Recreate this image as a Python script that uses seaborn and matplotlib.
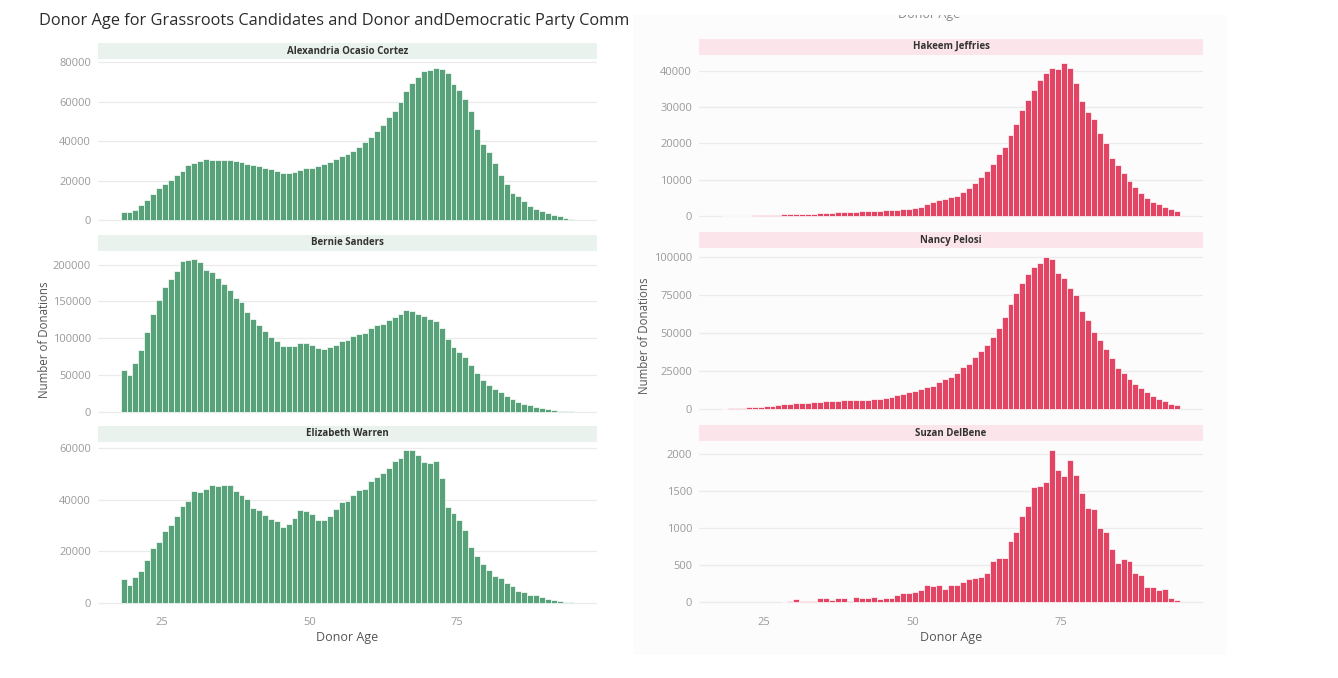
import numpy as np
import pandas as pd
import seaborn as sns
import matplotlib.pyplot as plt
from matplotlib.patches import Rectangle

sns.set_theme(style="white")
plt.rcParams['font.family'] = ['Open Sans', 'DejaVu Sans']

W, H = 1338, 678

# donor age bins are one year wide, 18..95 (bin centres)
ages = np.arange(18, 95) + 0.5

aoc = [4050, 4050, 5400, 7800, 10100, 13500, 16200, 18600, 20600, 22800,
       25000, 28000, 29000, 30200, 30900, 30700, 30700, 30500, 30400, 30200,
       29500, 28700, 28200, 27200, 26300, 25800, 24800, 24100, 23800, 24500,
       25500, 26300, 26300, 27300, 28500, 29700, 31200, 32600, 33400, 34800,
       36800, 39700, 42000, 44900, 48300, 52000, 55400, 59700, 65500, 69500,
       72200, 75300, 76100, 77100, 76500, 74600, 68700, 65700, 61100, 55400,
       45900, 38600, 34400, 29000, 23000, 18200, 14000, 12300, 9600, 7400,
       5700, 4600, 3500, 2700, 2000, 1200, 700]
bernie = [57300, 49500, 66400, 84500, 108600, 133200, 151800, 169100, 180900, 191400,
          204100, 205900, 207300, 203600, 193200, 189500, 182300, 173600, 165500, 155000,
          149500, 135500, 125500, 118200, 110000, 101800, 96400, 90000, 89500, 89500,
          93200, 93200, 90500, 87300, 85900, 88200, 91400, 96400, 97700, 102700,
          105900, 107300, 113200, 117300, 119500, 124100, 128200, 132700, 138600, 136800,
          133200, 130500, 126400, 123200, 113600, 98600, 87700, 81800, 74500, 63600,
          52300, 43600, 36800, 31400, 26400, 21800, 17300, 13600, 10900, 9100,
          6800, 5500, 3600, 2700, 1800, 1400, 900]
warren = [9200, 7100, 10000, 12200, 16800, 21200, 23500, 27900, 30300, 33800,
          37500, 39600, 43200, 43000, 44200, 45600, 45200, 45500, 45800, 43200,
          41900, 40100, 36900, 36100, 34000, 32600, 31900, 29400, 30400, 33000,
          36000, 35700, 34400, 32200, 32100, 33500, 36400, 39000, 39600, 41800,
          43800, 44200, 47400, 48800, 50500, 52200, 54900, 56000, 59200, 59100,
          57400, 54500, 54200, 55100, 48300, 37300, 34900, 32100, 28100, 21800,
          18300, 15100, 12700, 10600, 9500, 7700, 6600, 4700, 4200, 3200,
          2900, 2300, 1600, 1000, 800, 500, 300]
jeffries = [10, 20, 40, 60, 80, 110, 140, 170, 200, 300,
            400, 450, 550, 550, 650, 650, 750, 800, 900, 1000,
            1000, 1100, 1200, 1300, 1300, 1400, 1450, 1550, 1650, 1700,
            1850, 2000, 2200, 2450, 3200, 3750, 4300, 4550, 5200, 5550,
            6650, 7750, 9200, 10800, 12300, 14200, 17000, 19000, 22400, 25400,
            29300, 31900, 34800, 37500, 39600, 40800, 40600, 42200, 40900, 36600,
            31600, 28800, 26800, 23000, 20200, 16000, 14100, 11800, 9700, 7900,
            6300, 4800, 3800, 3200, 2500, 2000, 1300]
pelosi = [400, 650, 850, 1100, 1300, 1500, 1700, 2200, 2400, 2800,
          3200, 3500, 3900, 4100, 4100, 4500, 5000, 5200, 5400, 5800,
          6100, 6300, 6300, 6300, 6300, 6500, 6900, 7600, 8000, 9100,
          10000, 11300, 12300, 13400, 14500, 15600, 17700, 19700, 21400, 23600,
          27900, 29900, 34000, 37900, 42200, 47400, 53000, 60800, 69000, 76000,
          82900, 88500, 93100, 95700, 100000, 98500, 89600, 85700, 79700, 74900,
          64500, 58200, 50900, 45200, 39200, 33500, 27300, 24000, 19700, 16500,
          14300, 11500, 8900, 7100, 5200, 3500, 2600]
delbene_ages = np.arange(28, 95) + 0.5
delbene = [5, 25, 45, 20, 25, 25, 55, 55, 35, 60,
           60, 25, 70, 55, 65, 75, 45, 55, 60, 105,
           130, 130, 145, 170, 230, 220, 235, 180, 235, 235,
           275, 310, 330, 335, 400, 560, 595, 600, 820, 945,
           1160, 1300, 1550, 1565, 1625, 2055, 1780, 1700, 1915, 1720,
           1470, 1275, 1255, 995, 950, 720, 530, 585, 550, 400,
           365, 200, 210, 160, 185, 65, 35]

panels = [
    ("Alexandria Ocasio Cortez", ages, aoc, [0, 20000, 40000, 60000, 80000]),
    ("Bernie Sanders", ages, bernie, [0, 50000, 100000, 150000, 200000]),
    ("Elizabeth Warren", ages, warren, [0, 20000, 40000, 60000]),
    ("Hakeem Jeffries", ages, jeffries, [0, 10000, 20000, 30000, 40000]),
    ("Nancy Pelosi", ages, pelosi, [0, 25000, 50000, 75000, 100000]),
    ("Suzan DelBene", delbene_ages, delbene, [0, 500, 1000, 1500, 2000]),
]
age_ticks = [25, 50, 75]

green, green_strip = "#58a279", "#e9f2ec"
red, red_strip = "#e34463", "#fce5ea"

fig = plt.figure(figsize=(W / 100, H / 100), dpi=100)
fig.patch.set_facecolor("white")


def px_axes(x0, y0, x1, y1):
    return fig.add_axes([x0 / W, 1 - y1 / H, (x1 - x0) / W, (y1 - y0) / H])


# the right half is a second screenshot with a faint background
fig.patches.append(Rectangle((633 / W, 1 - 655 / H), (1226 - 633) / W, (655 - 15) / H,
                             transform=fig.transFigure, facecolor="#fcfcfc",
                             edgecolor="none", zorder=-5))

left_bg = px_axes(0, 0, 628, H)
left_bg.axis("off")
left_bg.text(39 / 628, 1 - 21 / H, "Donor Age for Grassroots Candidates and Donor andDemocratic Party Comm",
             transform=left_bg.transAxes, ha="left", va="center", fontsize=11.8,
             color="#2b2b2b", clip_on=True)

# x label of the panel above, cut off by the screenshot edge
right_bg = px_axes(633, 15, 1226, 655)
right_bg.axis("off")
right_bg.text(0.5, 1 + 0.5 / 640, "Donor Age", transform=right_bg.transAxes, ha="center",
              va="center", fontsize=9, color="#888888", clip_on=True)

left_tops = [60, 251.5, 442.5]
right_tops = [55.5, 249, 442]
ph = 168

for i, (name, x, y, yt) in enumerate(panels):
    if i < 3:
        x0, x1, top, col, scol = 98, 597, left_tops[i], green, green_strip
    else:
        x0, x1, top, col, scol = 699, 1203, right_tops[i - 3], red, red_strip
    ax = px_axes(x0, top, x1, top + ph)
    sns.histplot(x=x, weights=y, binwidth=1, binrange=(np.floor(x[0]), 95), color=col,
                 alpha=1, edgecolor="white", linewidth=0.5, ax=ax, zorder=2)
    ymax = max(y)
    ax.set_ylim(-0.05 * ymax, 1.05 * ymax)
    ax.set_xlim(14.15, 98.85)
    ax.set_yticks(yt)
    ax.set_yticklabels([str(v) for v in yt])
    ax.set_facecolor("none")
    ax.grid(axis="y", color="#ebebeb", linewidth=0.9)
    ax.set_axisbelow(True)
    for s in ax.spines.values():
        s.set_visible(False)
    ax.tick_params(axis="both", length=0, labelsize=8, labelcolor="#9a9a9a", pad=5)
    ax.set_ylabel("")
    if i in (2, 5):
        ax.set_xticks(age_ticks)
        ax.set_xticklabels([str(v) for v in age_ticks])
        ax.set_xlabel("Donor Age", fontsize=9, color="#555555", labelpad=2)
    else:
        ax.set_xticks([])
        ax.set_xlabel("")

    # facet strip
    sax = px_axes(x0, top - 17, x1, top - 1)
    sax.set_facecolor(scol)
    sax.set_xticks([])
    sax.set_yticks([])
    for s in sax.spines.values():
        s.set_visible(False)
    sax.text(0.5, 0.5, name, transform=sax.transAxes, ha="center", va="center",
             fontsize=7, fontweight="bold", color="#333333")

fig.text(44 / W, 1 - 340 / H, "Number of Donations", rotation=90, ha="center", va="center",
         fontsize=8.3, color="#555555")
fig.text(644 / W, 1 - 336 / H, "Number of Donations", rotation=90, ha="center", va="center",
         fontsize=8.3, color="#555555")

fig.savefig("out.png", dpi=100, facecolor="white")
